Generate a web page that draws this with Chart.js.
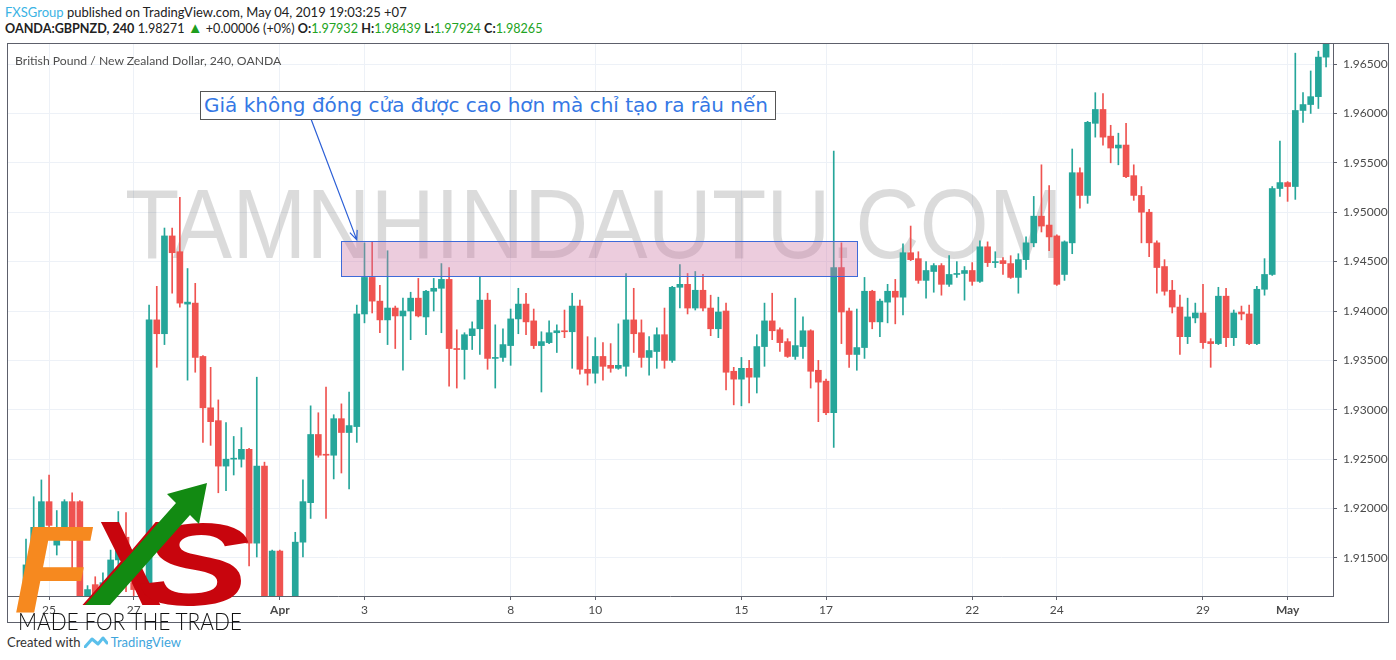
<!DOCTYPE html>
<html>
<head>
<meta charset="utf-8">
<script src="https://cdn.jsdelivr.net/npm/chart.js@4.4.0/dist/chart.umd.min.js"></script>
<style>
  body { margin: 0; width: 1396px; height: 660px; background: #fff; position: relative; overflow: hidden;
         font-family: Lato, "Noto Sans", sans-serif; }
  .abs { position: absolute; white-space: nowrap; }
  #h1 { left: 5px; top: 4px; font-size: 13px; color: #222; }
  #h2 { left: 5px; top: 21px; font-size: 12.6px; color: #222; }
  #h1 .u { color: #3bb3e4; }
  .g { color: #22a322; }
  .tri { color: #1e9e1e; font-size: 15px; line-height: 10px; }
  #title { left: 15px; top: 53px; font-size: 12.2px; color: #4f4f4f; z-index: 2; }
  #wrap { left: 7px; top: 43px; width: 1382px; height: 580px; }
  #note { left: 200px; top: 91px; width: 576px; height: 29px; box-sizing: border-box; border: 1px solid #555;
          background: #fff; color: #3578e5; font-family: "DejaVu Sans", Verdana, sans-serif; font-size: 20px;
          line-height: 26px; padding-left: 3px; z-index: 3; }
  #foot { left: 7px; top: 634px; font-size: 13px; color: #333; z-index: 3; }
  #foot .tv { color: #3ea5dc; }
  #logo { position: absolute; left: 0; top: 0; z-index: 4; pointer-events: none; }
</style>
</head>
<body>
<div class="abs" id="h1"><span class="u">FXSGroup</span> published on TradingView.com, May 04, 2019 19:03:25 +07</div>
<div class="abs" id="h2"><b>OANDA:GBPNZD, 240</b> 1.98271 <span class="tri">▲</span> +0.00006 (+0%) <b>O:</b><span class="g">1.97932</span> <b>H:</b><span class="g">1.98439</span> <b>L:</b><span class="g">1.97924</span> <b>C:</b><span class="g">1.98265</span></div>
<div class="abs" id="wrap"><canvas id="c" width="1382" height="580"></canvas></div>
<div class="abs" id="title">British Pound / New Zealand Dollar, 240, OANDA</div>
<div class="abs" id="note">Giá không đóng cửa được cao hơn mà chỉ tạo ra râu nến</div>
<div class="abs" id="foot">Created with <svg width="24" height="12" style="vertical-align:-1px"><path d="M1 11 L8 3 L14 8 L19 2 L23 7" fill="none" stroke="#5bc0eb" stroke-width="3" stroke-linejoin="round" stroke-linecap="round"/></svg> <span class="tv">TradingView</span></div>
<svg id="logo" width="1396" height="660">
  <text x="14" y="612" font-family="Liberation Sans" font-weight="bold" font-style="italic" font-size="125" fill="#f6891f">F</text>
  <text x="88" y="605" font-family="Liberation Sans" font-weight="bold" font-style="italic" font-size="120" fill="#c8050d">X</text>
  <text transform="translate(138,605) scale(1.45,1)" font-family="Liberation Sans" font-weight="bold" font-style="italic" font-size="116" fill="#c8050d">S</text>
  <polygon points="85,605 176,503 167,494 207,483 199,524 190,515 110,605" fill="#128a12"/>
  <text x="18" y="630" font-family="Lato" font-weight="300" font-size="24" fill="#111" textLength="224" lengthAdjust="spacingAndGlyphs">MADE FOR THE TRADE</text>
</svg>
<script>
// GBPNZD 240 candles (index = candle number)
const opens = [1.9105,1.9143,1.9181,1.9207,1.9163,1.9178,1.9207,1.9207,1.9100,1.9123,
  1.9095,1.9125,1.9148,1.9171,1.9125,1.9118,1.9100,1.9391,1.9377,1.9476,
  1.9460,1.9407,1.9408,1.9354,1.9302,1.9289,1.9243,1.9250,1.9250,1.9260,
  1.9165,1.9243,1.9100,1.9157,1.9100,1.9095,1.9166,1.9206,1.9275,1.9255,
  1.9254,1.9291,1.9277,1.9283,1.9397,1.9434,1.9410,1.9391,1.9403,1.9395,
  1.9400,1.9413,1.9394,1.9420,1.9423,1.9432,1.9362,1.9361,1.9375,1.9382,
  1.9411,1.9352,1.9353,1.9365,1.9392,1.9407,1.9390,1.9365,1.9368,1.9378,
  1.9380,1.9379,1.9405,1.9341,1.9337,1.9354,1.9345,1.9342,1.9344,1.9391,
  1.9378,1.9353,1.9359,1.9376,1.9350,1.9424,1.9427,1.9403,1.9421,1.9403,
  1.9382,1.9400,1.9339,1.9331,1.9342,1.9333,1.9364,1.9390,1.9381,1.9369,
  1.9354,1.9364,1.9380,1.9340,1.9329,1.9297,1.9444,1.9400,1.9356,1.9363,
  1.9420,1.9389,1.9409,1.9420,1.9414,1.9459,1.9453,1.9431,1.9440,1.9446,
  1.9427,1.9437,1.9438,1.9441,1.9430,1.9465,1.9449,1.9451,1.9448,1.9434,
  1.9452,1.9469,1.9496,1.9487,1.9476,1.9437,1.9469,1.9540,1.9517,1.9590,
  1.9604,1.9577,1.9565,1.9568,1.9537,1.9517,1.9500,1.9469,1.9445,1.9421,
  1.9404,1.9374,1.9393,1.9398,1.9369,1.9367,1.9415,1.9373,1.9399,1.9397,
  1.9367,1.9422,1.9437,1.9524,1.9530,1.9526,1.9603,1.9609,1.9617,1.9657];
const highs = [1.9169,1.9212,1.9229,1.9234,1.9198,1.9209,1.9216,1.9208,1.9122,1.9131,
  1.9135,1.9158,1.9197,1.9196,1.9128,1.9120,1.9406,1.9425,1.9484,1.9484,
  1.9515,1.9443,1.9428,1.9355,1.9343,1.9310,1.9287,1.9273,1.9282,1.9261,
  1.9333,1.9247,1.9158,1.9158,1.9105,1.9176,1.9229,1.9304,1.9297,1.9323,
  1.9295,1.9306,1.9318,1.9406,1.9469,1.9470,1.9426,1.9461,1.9405,1.9413,
  1.9419,1.9433,1.9421,1.9433,1.9448,1.9444,1.9381,1.9378,1.9389,1.9435,
  1.9418,1.9386,1.9382,1.9402,1.9423,1.9418,1.9402,1.9379,1.9390,1.9386,
  1.9401,1.9418,1.9411,1.9374,1.9373,1.9368,1.9367,1.9387,1.9438,1.9423,
  1.9391,1.9374,1.9383,1.9403,1.9425,1.9447,1.9438,1.9440,1.9437,1.9416,
  1.9414,1.9408,1.9343,1.9353,1.9350,1.9376,1.9408,1.9418,1.9383,1.9372,
  1.9413,1.9394,1.9381,1.9350,1.9331,1.9562,1.9469,1.9403,1.9402,1.9434,
  1.9421,1.9412,1.9427,1.9432,1.9468,1.9486,1.9460,1.9450,1.9448,1.9448,
  1.9456,1.9450,1.9445,1.9449,1.9471,1.9470,1.9460,1.9454,1.9456,1.9458,
  1.9475,1.9516,1.9548,1.9527,1.9477,1.9471,1.9564,1.9545,1.9592,1.9621,
  1.9620,1.9588,1.9580,1.9590,1.9548,1.9526,1.9503,1.9471,1.9452,1.9431,
  1.9416,1.9413,1.9408,1.9427,1.9372,1.9424,1.9423,1.9401,1.9405,1.9406,
  1.9425,1.9453,1.9526,1.9572,1.9531,1.9661,1.9621,1.9643,1.9663,1.9700];
const lows = [1.9100,1.9133,1.9178,1.9173,1.9153,1.9171,1.9128,1.9100,1.9090,1.9090,
  1.9090,1.9115,1.9138,1.9116,1.9110,1.9090,1.9095,1.9343,1.9366,1.9418,
  1.9404,1.9330,1.9338,1.9267,1.9264,1.9216,1.9218,1.9234,1.9242,1.9142,
  1.9151,1.9095,1.9095,1.9095,1.9085,1.9090,1.9151,1.9190,1.9252,1.9190,
  1.9230,1.9236,1.9220,1.9267,1.9388,1.9398,1.9378,1.9366,1.9362,1.9340,
  1.9371,1.9394,1.9376,1.9400,1.9378,1.9324,1.9322,1.9331,1.9361,1.9356,
  1.9341,1.9322,1.9349,1.9345,1.9377,1.9376,1.9362,1.9318,1.9367,1.9358,
  1.9373,1.9342,1.9336,1.9325,1.9327,1.9330,1.9338,1.9341,1.9334,1.9358,
  1.9343,1.9335,1.9342,1.9342,1.9348,1.9403,1.9397,1.9401,1.9400,1.9375,
  1.9373,1.9320,1.9305,1.9304,1.9307,1.9317,1.9344,1.9371,1.9359,1.9353,
  1.9351,1.9352,1.9322,1.9288,1.9295,1.9262,1.9367,1.9343,1.9340,1.9352,
  1.9382,1.9374,1.9388,1.9387,1.9396,1.9451,1.9428,1.9413,1.9419,1.9416,
  1.9425,1.9434,1.9411,1.9426,1.9429,1.9445,1.9444,1.9437,1.9433,1.9418,
  1.9442,1.9465,1.9480,1.9461,1.9426,1.9431,1.9458,1.9504,1.9509,1.9576,
  1.9568,1.9550,1.9548,1.9535,1.9512,1.9469,1.9455,1.9418,1.9416,1.9398,
  1.9356,1.9367,1.9388,1.9362,1.9343,1.9366,1.9364,1.9365,1.9391,1.9366,
  1.9366,1.9416,1.9436,1.9516,1.9511,1.9513,1.9591,1.9600,1.9605,1.9647];
const closes = [1.9143,1.9181,1.9207,1.9183,1.9178,1.9207,1.9168,1.9105,1.9118,1.9100,
  1.9125,1.9148,1.9175,1.9125,1.9118,1.9100,1.9391,1.9377,1.9476,1.9459,
  1.9408,1.9409,1.9353,1.9302,1.9288,1.9243,1.9250,1.9251,1.9260,1.9165,
  1.9243,1.9100,1.9157,1.9100,1.9090,1.9166,1.9207,1.9275,1.9254,1.9254,
  1.9291,1.9277,1.9284,1.9397,1.9434,1.9410,1.9391,1.9403,1.9395,1.9400,
  1.9413,1.9395,1.9420,1.9423,1.9432,1.9362,1.9361,1.9376,1.9382,1.9411,
  1.9352,1.9353,1.9366,1.9392,1.9407,1.9389,1.9365,1.9369,1.9378,1.9380,
  1.9379,1.9405,1.9341,1.9337,1.9354,1.9344,1.9342,1.9345,1.9391,1.9377,
  1.9353,1.9360,1.9376,1.9350,1.9424,1.9427,1.9403,1.9421,1.9403,1.9382,
  1.9399,1.9338,1.9331,1.9342,1.9333,1.9364,1.9390,1.9380,1.9368,1.9354,
  1.9365,1.9380,1.9339,1.9328,1.9297,1.9444,1.9399,1.9356,1.9363,1.9420,
  1.9389,1.9410,1.9420,1.9414,1.9459,1.9452,1.9431,1.9441,1.9446,1.9427,
  1.9437,1.9438,1.9441,1.9430,1.9465,1.9449,1.9450,1.9448,1.9434,1.9452,
  1.9469,1.9496,1.9486,1.9475,1.9427,1.9470,1.9540,1.9517,1.9591,1.9604,
  1.9576,1.9565,1.9568,1.9536,1.9517,1.9500,1.9469,1.9444,1.9420,1.9404,
  1.9374,1.9394,1.9398,1.9368,1.9367,1.9415,1.9373,1.9398,1.9397,1.9367,
  1.9422,1.9437,1.9524,1.9530,1.9526,1.9603,1.9609,1.9617,1.9657,1.9690];

// time axis labels and the candle they sit on
const dayTickIdx = [3, 14, 33, 44, 63, 74, 93, 104, 123, 134, 153, 164];
const dayTickLabels = ['25', '27', 'Apr', '3', '8', '10', '15', '17', '22', '24', '29', 'May'];
const priceTicks = [1.915, 1.92, 1.925, 1.93, 1.935, 1.94, 1.945, 1.95, 1.955, 1.96, 1.965];

// marked zone: candle range and price range
const zoneIdx = [40.95, 108.0];
const zonePrice = [1.9435, 1.9471];

const UP = '#26a69a', DOWN = '#ef5350';
const colors = opens.map((o, i) => closes[i] >= o ? UP : DOWN);

Chart.defaults.font.family = 'Lato, "Noto Sans", sans-serif';

const overlay = {
  id: 'overlay',
  beforeDatasetsDraw(chart) {
    const { ctx, chartArea: a } = chart;
    ctx.save();
    ctx.beginPath();
    ctx.rect(a.left, a.top, a.right - a.left, a.bottom - a.top);
    ctx.clip();
    ctx.fillStyle = 'rgba(0,0,0,0.14)';
    ctx.font = '99px "Liberation Sans"';
    ctx.textBaseline = 'alphabetic';
    ctx.fillText('TAMNHINDAUTU.COM', 118, 215, 938);
    ctx.restore();
  },
  afterDatasetsDraw(chart) {
    const { ctx } = chart;
    const x = chart.scales.x, y = chart.scales.y;
    const x0 = Math.round(x.getPixelForValue(zoneIdx[0])) + 0.5;
    const x1 = Math.round(x.getPixelForValue(zoneIdx[1])) + 0.5;
    const y0 = Math.round(y.getPixelForValue(zonePrice[1])) + 0.5;
    const y1 = Math.round(y.getPixelForValue(zonePrice[0])) + 0.5;
    ctx.save();
    ctx.fillStyle = 'rgba(206,120,165,0.38)';
    ctx.fillRect(x0, y0, x1 - x0, y1 - y0);
    ctx.strokeStyle = '#3f6ad8';
    ctx.lineWidth = 1;
    ctx.strokeRect(x0, y0, x1 - x0, y1 - y0);

    // arrow from the note down to the zone corner
    const sx = 304, sy = 76;
    const tx = x.getPixelForValue(43.0), ty = y.getPixelForValue(1.9472);
    const ang = Math.atan2(ty - sy, tx - sx);
    ctx.strokeStyle = '#2c5fd6';
    ctx.lineWidth = 1.2;
    ctx.beginPath();
    ctx.moveTo(sx, sy);
    ctx.lineTo(tx, ty);
    ctx.moveTo(tx - 10 * Math.cos(ang - 0.4), ty - 10 * Math.sin(ang - 0.4));
    ctx.lineTo(tx, ty);
    ctx.lineTo(tx - 10 * Math.cos(ang + 0.4), ty - 10 * Math.sin(ang + 0.4));
    ctx.stroke();
    ctx.restore();
  },
  afterDraw(chart) {
    const { ctx, width, height } = chart;
    ctx.save();
    ctx.strokeStyle = '#5d606b';
    ctx.lineWidth = 1;
    ctx.strokeRect(0.5, 0.5, width - 1, height - 1);
    ctx.restore();
  }
};

new Chart(document.getElementById('c'), {
  type: 'bar',
  data: {
    datasets: [
      {
        label: 'wick',
        data: opens.map((o, i) => ({ x: i, y: [lows[i], highs[i]] })),
        backgroundColor: colors,
        barThickness: 1,
        minBarLength: 1,
        grouped: false,
        order: 2
      },
      {
        label: 'body',
        data: opens.map((o, i) => ({ x: i, y: [o, closes[i]] })),
        backgroundColor: colors,
        barThickness: 6,
        minBarLength: 1,
        grouped: false,
        order: 1
      }
    ]
  },
  options: {
    responsive: false,
    animation: false,
    layout: { padding: 0 },
    plugins: { legend: { display: false }, tooltip: { enabled: false } },
    scales: {
      x: {
        type: 'linear',
        offset: false,
        min: -2.47,
        max: 169.9,
        grid: { offset: false, color: '#edf1f7', tickLength: 4, tickColor: '#5d606b' },
        border: { color: '#5d606b' },
        ticks: {
          autoSkip: false,
          maxRotation: 0,
          padding: 3,
          color: '#4a4a4a',
          font: (c) => ({ size: 12, weight: (dayTickLabels[c.index] === 'Apr' || dayTickLabels[c.index] === 'May') ? 'bold' : 'normal' }),
          callback: (v, i) => dayTickLabels[i]
        },
        afterBuildTicks: (s) => { s.ticks = dayTickIdx.map(v => ({ value: v })); },
        afterFit: (s) => { s.height = 27; s.paddingLeft = 0; s.paddingRight = 0; }
      },
      y: {
        type: 'linear',
        position: 'right',
        min: 1.91115,
        max: 1.96713,
        grid: { color: '#edf1f7', tickLength: 4, tickColor: '#5d606b' },
        border: { color: '#5d606b' },
        ticks: {
          padding: 6,
          color: '#4a4a4a',
          font: { size: 12 },
          callback: (v) => Number(v).toFixed(5)
        },
        afterBuildTicks: (s) => { s.ticks = priceTicks.map(v => ({ value: v })); },
        afterFit: (s) => { s.width = 56; s.paddingTop = 0; s.paddingBottom = 0; }
      }
    }
  },
  plugins: [overlay]
});
</script>
</body>
</html>
